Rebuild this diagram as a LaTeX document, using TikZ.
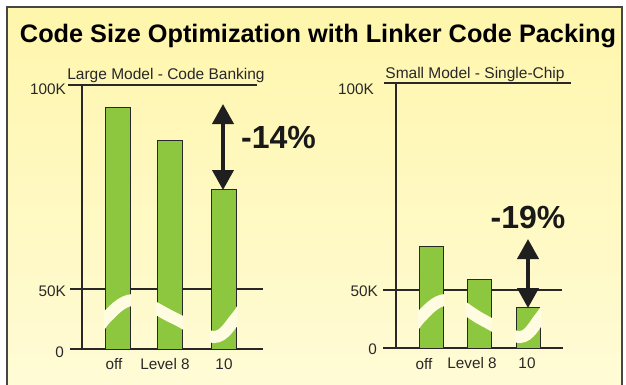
\documentclass[tikz,border=0pt]{standalone}
\usepackage{fontspec}
\setmainfont{Liberation Sans}
\usetikzlibrary{arrows.meta}

\definecolor{bgtop}{RGB}{255,246,172}
\definecolor{bgbot}{RGB}{255,251,214}
\definecolor{frame}{RGB}{70,70,70}
\definecolor{barfill}{RGB}{141,198,63}
\definecolor{ink}{RGB}{40,40,40}
\definecolor{band}{RGB}{255,252,226}

\tikzset{
  axis/.style={draw=ink, line width=1.2pt},
  bar/.style={fill=barfill, draw=ink, line width=1pt},
  tick/.style={text=ink, font=\fontsize{15.3}{17}\selectfont, inner sep=0pt},
  caption/.style={text=ink, font=\fontsize{15.5}{17}\selectfont, inner sep=0pt},
  pct/.style={text=black!90, font=\bfseries\fontsize{32}{35}\selectfont, inner sep=0pt},
  gain/.style={draw=black!88, line width=4pt, {Triangle[width=21pt,length=20pt]}-{Triangle[width=21pt,length=20pt]}, shorten <=-1pt, shorten >=-1pt},
  wave/.style={draw=band, line width=12pt}
}

\begin{document}
\begin{tikzpicture}[x=1pt, y=-1pt]
    \useasboundingbox (0,0) rectangle (626,384);
    \clip (0,0) rectangle (626,384);

    % Panel
    \shade[top color=bgtop, bottom color=bgbot] (7,7) rectangle (622,392);
    \draw[draw=frame, line width=1.6pt] (7,392) -- (7,7) -- (622,7) -- (622,392);

    % Title
    \node[inner sep=0pt, text=black] (title) at (318,36)
        {\bfseries\fontsize{25.3}{28}\selectfont Code Size Optimization with Linker Code Packing};

    % Large model
    \node[caption, anchor=base] (capL) at (166,79) {Large Model - Code Banking};
    \draw[axis] (68,85) -- (257,85);
    \draw[axis] (82,85) -- (82,349);
    \draw[axis] (70,289) -- (263,289);
    \draw[axis] (70,349) -- (263,349);
    \node[tick, anchor=east] (hiL) at (66,89) {100K};
    \node[tick, anchor=east] (midL) at (66,291) {50K};
    \node[tick, anchor=east] (zeroL) at (64,352) {0};

    \draw[bar] (105,349) rectangle (130,107);
    \draw[bar] (157,349) rectangle (182,140);
    \draw[bar] (211,349) rectangle (236,189);

    \begin{scope}
      \clip (104,350) rectangle (131,100) (156,350) rectangle (183,100) (210,350) rectangle (237,100);
      \draw[wave] plot[smooth, tension=0.6] coordinates
          {(93,340) (105,319) (133,300) (174,318) (214,337) (236,318) (246,302)};
    \end{scope}

    \node[tick, anchor=base] (offL) at (114,369) {off};
    \node[tick, anchor=base] (lv8L) at (165,369) {Level 8};
    \node[tick, anchor=base] (tenL) at (224,369) {10};

    \coordinate (upL) at (223,105);
    \coordinate (dnL) at (223,189);
    \draw[gain] (upL) -- (dnL);
    \node[pct, anchor=west] (pctL) at (241,137) {-14\%};

    % Small model
    \node[caption, anchor=base] (capS) at (475,78) {Small Model - Single-Chip};
    \draw[axis] (384,83) -- (571,83);
    \draw[axis] (396,83) -- (396,348);
    \draw[axis] (383,290) -- (562,290);
    \draw[axis] (383,348) -- (563,348);
    \node[tick, anchor=east] (hiS) at (374,89) {100K};
    \node[tick, anchor=east] (midS) at (378,291) {50K};
    \node[tick, anchor=east] (zeroS) at (377,349) {0};

    \draw[bar] (419,348) rectangle (443,246);
    \draw[bar] (467,348) rectangle (491,279);
    \draw[bar] (516,348) rectangle (540,307);

    \begin{scope}
      \clip (418,349) rectangle (444,240) (466,349) rectangle (492,240) (515,349) rectangle (541,240);
      \draw[wave] plot[smooth, tension=0.6] coordinates
          {(407,340) (419,319) (446,300) (483,320) (520,337) (540,318) (550,302)};
    \end{scope}

    \node[tick, anchor=base] (offS) at (424,369) {off};
    \node[tick, anchor=base] (lv8S) at (472,368) {Level 8};
    \node[tick, anchor=base] (tenS) at (527,368) {10};

    \coordinate (upS) at (528,240);
    \coordinate (dnS) at (528,307);
    \draw[gain] (upS) -- (dnS);
    \node[pct] (pctS) at (528,217) {-19\%};
\end{tikzpicture}
\end{document}
